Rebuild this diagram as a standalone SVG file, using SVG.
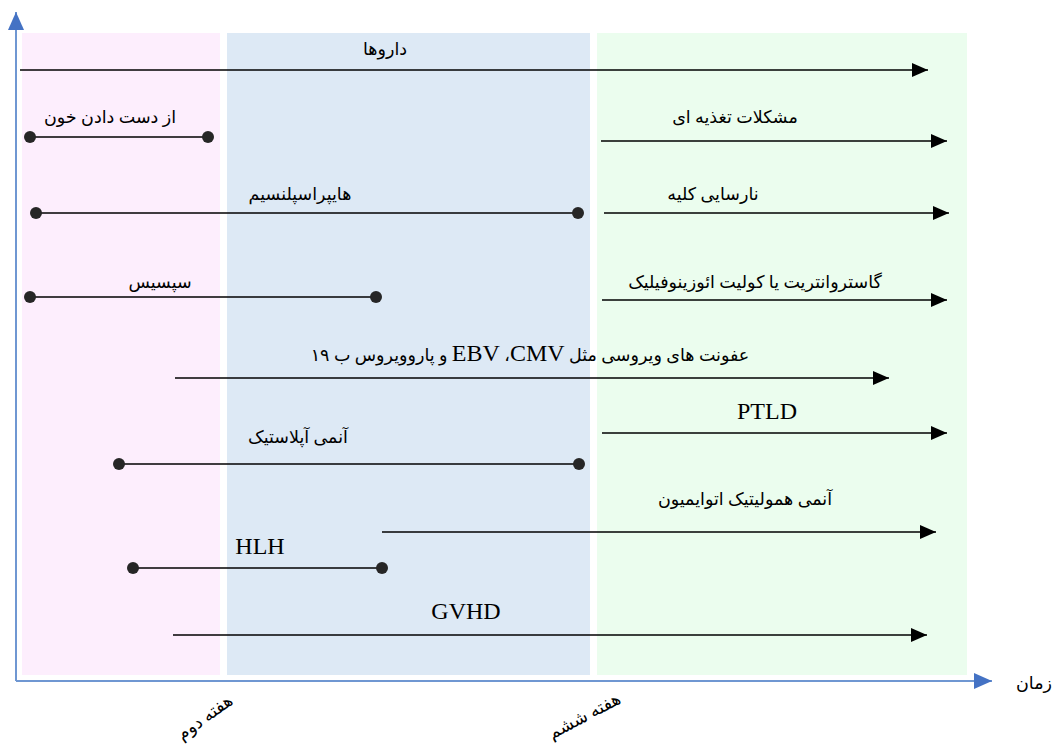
<svg xmlns="http://www.w3.org/2000/svg" width="1052" height="745" viewBox="0 0 1052 745">
<defs>
<style>
.t{font-family:"Liberation Serif","DejaVu Sans",serif;font-size:17.5px;fill:#000;text-anchor:middle}
.lat{font-family:"Liberation Serif",serif;font-size:24px}
.l{stroke:#000;stroke-width:1.5;fill:none}
.d{fill:#262626}
</style>
<marker id="ah" markerWidth="16" markerHeight="14" refX="16" refY="7" orient="auto" markerUnits="userSpaceOnUse"><path d="M0,0 L16,7 L0,14 Z" fill="#000"/></marker>
<marker id="ax" markerWidth="18" markerHeight="16" refX="18" refY="8" orient="auto" markerUnits="userSpaceOnUse"><path d="M0,0 L18,8 L0,16 Z" fill="#4472C4"/></marker>
</defs>
<g id="bands">
<rect x="22" y="33" width="198" height="642" fill="#FDEEFD"/>
<rect x="227" y="33" width="363" height="642" fill="#DDE9F5"/>
<rect x="597" y="33" width="370" height="642" fill="#EBFDEE"/>
</g>
<g id="axes">
<line x1="16" y1="681" x2="16" y2="12" stroke="#6F97D2" stroke-width="2" marker-end="url(#ax)"/>
<line x1="16" y1="681" x2="992" y2="681" stroke="#6F97D2" stroke-width="2" marker-end="url(#ax)"/>
<text class="t" x="1034" y="689">زمان</text>
<text class="t" x="0" y="0" transform="translate(208,722) rotate(-36)">هفته دوم</text>
<text class="t" x="0" y="0" transform="translate(587,721) rotate(-28)">هفته ششم</text>
</g>
<g id="connectors">
<line class="l" x1="20" y1="70" x2="928" y2="70" marker-end="url(#ah)"/>
<line class="l" x1="30" y1="137" x2="208" y2="137"/>
<line class="l" x1="601" y1="141" x2="947" y2="141" marker-end="url(#ah)"/>
<line class="l" x1="36" y1="213" x2="578" y2="213"/>
<line class="l" x1="604" y1="213" x2="949" y2="213" marker-end="url(#ah)"/>
<line class="l" x1="30" y1="297" x2="376" y2="297"/>
<line class="l" x1="602" y1="300" x2="947" y2="300" marker-end="url(#ah)"/>
<line class="l" x1="175" y1="378" x2="889" y2="378" marker-end="url(#ah)"/>
<line class="l" x1="602" y1="433" x2="947" y2="433" marker-end="url(#ah)"/>
<line class="l" x1="119" y1="464" x2="579" y2="464"/>
<line class="l" x1="382" y1="532" x2="936" y2="532" marker-end="url(#ah)"/>
<line class="l" x1="133" y1="568" x2="382" y2="568"/>
<line class="l" x1="173" y1="635" x2="927" y2="635" marker-end="url(#ah)"/>
</g>
<g id="n-drugs"><text class="t" x="385" y="55">داروها</text></g>
<g id="n-bloodloss"><text class="t" x="110" y="123">از دست دادن خون</text><circle class="d" cx="30" cy="137" r="6"/><circle class="d" cx="208" cy="137" r="6"/></g>
<g id="n-nutrition"><text class="t" x="735" y="123">مشکلات تغذیه ای</text></g>
<g id="n-hypersplenism"><text class="t" x="300" y="200">هایپراسپلنسیم</text><circle class="d" cx="36" cy="213" r="6"/><circle class="d" cx="578" cy="213" r="6"/></g>
<g id="n-renal"><text class="t" x="713" y="200">نارسایی کلیه</text></g>
<g id="n-sepsis"><text class="t" x="160" y="288">سپسیس</text><circle class="d" cx="30" cy="297" r="6"/><circle class="d" cx="376" cy="297" r="6"/></g>
<g id="n-gastro"><text class="t" x="755" y="288">گاستروانتریت یا کولیت ائوزینوفیلیک</text></g>
<g id="n-viral"><text class="t" x="530" y="361" direction="rtl">عفونت های ویروسی مثل <tspan class="lat">CMV</tspan>،&#x200F; <tspan class="lat">EBV</tspan> و پاروویروس ب ۱۹</text></g>
<g id="n-ptld"><text class="t lat" x="767" y="419">PTLD</text></g>
<g id="n-aplastic"><text class="t" x="298" y="443">آنمی آپلاستیک</text><circle class="d" cx="119" cy="464" r="6"/><circle class="d" cx="579" cy="464" r="6"/></g>
<g id="n-hemolytic"><text class="t" x="745" y="505">آنمی همولیتیک اتوایمیون</text></g>
<g id="n-hlh"><text class="t lat" x="260" y="554">HLH</text><circle class="d" cx="133" cy="568" r="6"/><circle class="d" cx="382" cy="568" r="6"/></g>
<g id="n-gvhd"><text class="t lat" x="466" y="619">GVHD</text></g>
</svg>
